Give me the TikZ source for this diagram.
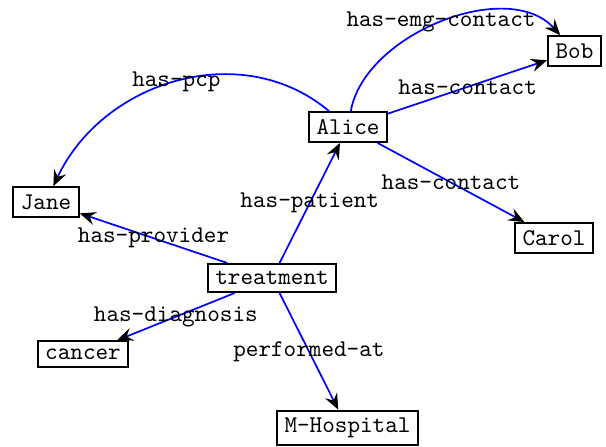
\documentclass[tikz,border=0pt]{standalone}
\usetikzlibrary{arrows.meta}
\newcommand{\tfont}{\fontsize{10.5pt}{12pt}\selectfont\ttfamily}
\begin{document}
\begin{tikzpicture}[x=0.4375pt,y=-0.4375pt,
  ent/.style={draw=black,line width=0.9pt,font=\tfont,inner xsep=3.3pt,inner ysep=3.2pt},
  edge/.style={draw=blue,line width=0.75pt,-{Stealth[length=7pt,width=5.8pt,inset=2.5pt,color=black]}},
  lbl/.style={font=\tfont,inner sep=1pt}]
\useasboundingbox (0,0) rectangle (606,446);
\node[ent] (Bob) at (574.5,51) {Bob};
\node[ent] (Alice) at (348,127) {Alice};
\node[ent] (Jane) at (46,202) {Jane};
\node[ent] (Carol) at (554,238) {Carol};
\node[ent] (treatment) at (272,278) {treatment};
\node[ent] (cancer) at (83,354) {cancer};
\node[ent] (MH) at (347.5,428) {M-Hospital};
\draw[edge] (Alice) to[out=80,in=132,looseness=0.9] node[lbl] {has-emg-contact} (Bob);
\draw[edge] (Alice) to[out=140,in=65,looseness=1.03] node[lbl] {has-pcp} (Jane);
\draw[edge] (Alice) -- node[lbl] {has-contact} (Bob);
\draw[edge] (Alice) -- node[lbl] {has-contact} (Carol);
\draw[edge] (treatment) -- node[lbl] {has-patient} (Alice);
\draw[edge] (treatment) -- node[lbl] {has-provider} (Jane);
\draw[edge] (treatment) -- node[lbl] {has-diagnosis} (cancer);
\draw[edge] (treatment) -- node[lbl] {performed-at} (MH);
\end{tikzpicture}
\end{document}
